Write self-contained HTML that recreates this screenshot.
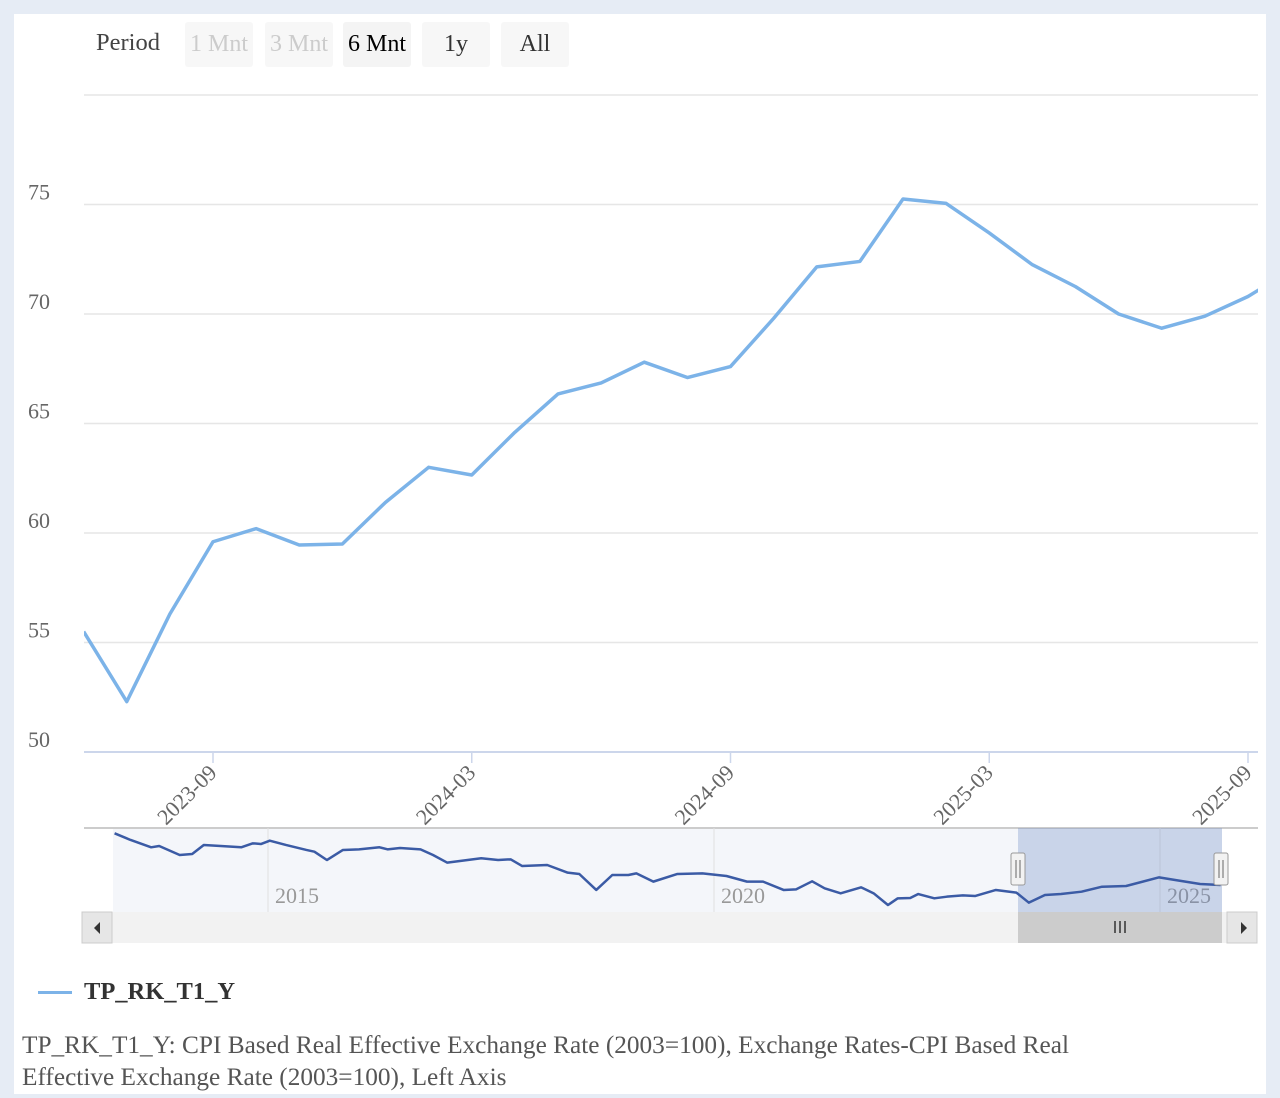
<!DOCTYPE html>
<html><head><meta charset="utf-8"><style>
body{margin:0;background:#e6ecf5;font-family:"Liberation Serif",serif;}
#panel{position:absolute;left:14px;top:14px;width:1252px;height:1080px;background:#fff;}
.btn{position:absolute;top:22px;height:45px;width:68px;background:#f7f7f7;border-radius:3px;font-size:24px;text-align:center;line-height:44px;color:#333;}
.dis{color:#ccc;}
</style></head><body>
<div id="panel"></div>
<div style="position:absolute;left:96px;top:29px;font-size:24.5px;color:#444">Period</div>
<div class="btn dis" style="left:185px">1 Mnt</div>
<div class="btn dis" style="left:265px">3 Mnt</div>
<div class="btn" style="left:343px;background:#f4f4f4;color:#000">6 Mnt</div>
<div class="btn" style="left:422px">1y</div>
<div class="btn" style="left:501px">All</div>
<svg id="chart" width="1280" height="1098" style="position:absolute;left:0;top:0" font-family="Liberation Serif, serif"></svg>
<div style="position:absolute;left:38px;top:991px;width:34px;height:3px;background:#7cb3e8"></div>
<div style="position:absolute;left:84px;top:978px;font-size:24.5px;font-weight:bold;color:#333">TP_RK_T1_Y</div>
<div style="position:absolute;left:22px;top:1029px;font-size:25.3px;color:#555;line-height:32px;width:1250px">TP_RK_T1_Y: CPI Based Real Effective Exchange Rate (2003=100), Exchange Rates-CPI Based Real<br>Effective Exchange Rate (2003=100), Left Axis</div>
<script>
const months=["2023-06","2023-07","2023-08","2023-09","2023-10","2023-11","2023-12","2024-01","2024-02","2024-03","2024-04","2024-05","2024-06","2024-07","2024-08","2024-09","2024-10","2024-11","2024-12","2025-01","2025-02","2025-03","2025-04","2025-05","2025-06","2025-07","2025-08","2025-09","2025-10"];
const values=[55.5,52.3,56.3,59.6,60.2,59.45,59.5,61.4,63.0,62.65,64.6,66.35,66.85,67.8,67.1,67.6,69.8,72.15,72.4,75.25,75.05,73.7,72.25,71.25,70.0,69.35,69.9,70.8,72.0];
const yTicks=[50,55,60,65,70,75,80];
const xTicks=["2023-09","2024-03","2024-09","2025-03","2025-09"];
const navYears=[2013.28,2013.46,2013.69,2013.78,2014.01,2014.15,2014.28,2014.47,2014.70,2014.83,2014.92,2015.02,2015.20,2015.43,2015.52,2015.66,2015.84,2016.02,2016.25,2016.34,2016.48,2016.71,2016.85,2017.01,2017.39,2017.58,2017.72,2017.85,2018.13,2018.36,2018.49,2018.68,2018.86,2019.04,2019.13,2019.32,2019.59,2019.87,2020.14,2020.37,2020.55,2020.78,2020.92,2021.10,2021.24,2021.42,2021.65,2021.79,2021.95,2022.06,2022.20,2022.29,2022.47,2022.61,2022.79,2022.93,2023.16,2023.39,2023.53,2023.71,2023.89,2024.12,2024.35,2024.62,2024.99,2025.17,2025.45,2025.68];
const navValues=[131.6,123.1,113.7,115.4,103.8,105.1,116.7,115.4,113.7,118.8,117.9,122.2,116.7,110.3,108.1,97.4,110.3,111.1,113.7,111.1,112.8,111.1,103.8,94.0,99.6,97.4,98.3,89.7,91.0,81.2,79.5,59.0,78.2,78.2,80.3,69.7,79.5,80.3,76.9,69.7,69.7,59.0,59.8,70.1,61.1,54.7,62.4,54.7,39.7,48.3,48.7,53.8,48.3,50.4,52.1,51.3,59.0,55.6,42.7,52.6,53.8,56.8,63.2,64.1,75.2,71.8,66.7,65.4];
const navLabels=[2015,2020,2025];

const svg=document.getElementById('chart');const NS="http://www.w3.org/2000/svg";
function mk(t,a,p){const e=document.createElementNS(NS,t);for(const k in a)e.setAttribute(k,a[k]);(p||svg).appendChild(e);return e;}
function mIdx(s){const [y,m]=s.split('-').map(Number);return y*12+m-1;}
const X0=84,X1=1258;
const xS=s=>213+(mIdx(s)-mIdx("2023-09"))*43.125;
const yS=v=>752-(v-50)*21.9;
yTicks.forEach(v=>{
 const g=mk('line',{x1:X0,x2:X1,y1:yS(v),y2:yS(v),stroke:v===50?'#ccd6eb':'#e6e6e6','stroke-width':v===50?2:1.5});
 
 if(v<80){const t=mk('text',{x:28,y:yS(v)-5,'font-size':22,fill:'#666'});t.textContent=v;
 }
});
xTicks.forEach(s=>{const x=xS(s);
 const l=mk('line',{x1:x,x2:x,y1:752,y2:763,stroke:'#ccd6eb','stroke-width':1.5});
 
 const t=mk('text',{x:x+5,y:774,'font-size':22,fill:'#666','text-anchor':'end',transform:`rotate(-45 ${x+5} 774)`});t.textContent=s;
 });
mk('clipPath',{id:'c'},mk('defs',{}));
const cp=svg.querySelector('#c');mk('rect',{x:X0,y:90,width:X1-X0,height:670},cp);
const line=mk('polyline',{points:months.map((m,i)=>xS(m)+','+yS(values[i])).join(' '),fill:'none',stroke:'#7cb3e8','stroke-width':3.5,'stroke-linejoin':'round','clip-path':'url(#c)'});

const nx=y=>268+(y-2015)*89.2, ny=v=>892.7-(v-55.5)*0.78;
const nb=mk('rect',{x:113,y:828,width:1109,height:84,fill:'#f4f6fa'});
mk('line',{x1:X0,x2:X1,y1:828,y2:828,stroke:'#cccccc','stroke-width':2});
navLabels.forEach(y=>{const x=nx(y);mk('line',{x1:x,x2:x,y1:828,y2:912,stroke:'#e0e0e0'});
 const t=mk('text',{x:x+7,y:903,'font-size':22,fill:'#999'});t.textContent=y;
 });
const sel=mk('rect',{x:1018,y:828,width:204,height:84,fill:'rgba(102,133,194,0.3)'});
const nl=mk('polyline',{points:navYears.map((y,i)=>nx(y)+','+ny(navValues[i])).join(' '),fill:'none',stroke:'#3b5ba5','stroke-width':2.5,'stroke-linejoin':'round'});

[1018,1221].forEach((x,i)=>{const h=mk('rect',{x:x-7,y:853,width:14,height:32,fill:'#f2f2f2',stroke:'#999',rx:2});
 
 mk('line',{x1:x-2,x2:x-2,y1:860,y2:878,stroke:'#666'});mk('line',{x1:x+2,x2:x+2,y1:860,y2:878,stroke:'#666'});});
const tr=mk('rect',{x:82,y:912,width:1175,height:31,fill:'#f2f2f2'});
const lb=mk('rect',{x:82,y:912,width:30,height:31,fill:'#e6e6e6',stroke:'#ccc'});
const rb=mk('rect',{x:1227,y:912,width:30,height:31,fill:'#e6e6e6',stroke:'#ccc'});
mk('path',{d:'M100 922 L94 928 L100 934Z',fill:'#333'});mk('path',{d:'M1241 922 L1247 928 L1241 934Z',fill:'#333'});
const th=mk('rect',{x:1018,y:912,width:204,height:31,fill:'#cccccc'});
[1115,1120,1125].forEach(x=>mk('line',{x1:x,x2:x,y1:921,y2:933,stroke:'#333','stroke-width':1.5}));
</script>
</body></html>
